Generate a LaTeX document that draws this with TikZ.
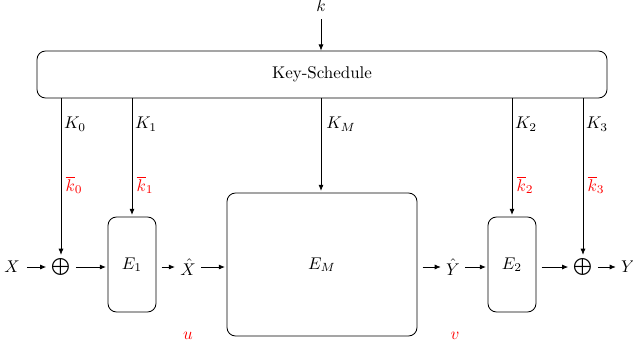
\documentclass[tikz,border=0pt]{standalone}
\usetikzlibrary{arrows.meta}
\begin{document}
\begin{tikzpicture}[x=0.59pt,y=-0.59pt,
  box/.style={draw,rounded corners=5pt,line width=0.5pt},
  arr/.style={-{Latex[length=3.6pt,width=3pt]},line width=0.45pt},
  key/.style={anchor=center},
  bark/.style={anchor=center,text=red},
  lbl/.style={inner sep=0pt}]
\useasboundingbox (0,0) rectangle (633,350);

% key schedule
\node[lbl] (k) at (321,6) {$k$};
\node[box,minimum width=570*0.59pt,minimum height=47*0.59pt] (ks) at (322,74.5) {Key-Schedule};
\draw[arr] ([yshift=-4pt]k.south) -- (ks.north -| k);

% round functions
\node[box,minimum width=48*0.59pt,minimum height=95*0.59pt] (e1) at (132,264.5) {$E_1$};
\node[box,minimum width=190*0.59pt,minimum height=143*0.59pt] (em) at (322,264.5) {$E_M$};
\node[box,minimum width=48*0.59pt,minimum height=95*0.59pt] (e2) at (512,264.5) {$E_2$};

% whitening xors
\node[lbl] (x0) at (61,267) {$\bigoplus$};
\node[lbl] (x3) at (583,267) {$\bigoplus$};

% data path
\coordinate (row) at (0,267);
\node[lbl] (X) at (12,267) {$X$};
\node[lbl] (Xh) at (188,267) {$\hat{X}$};
\node[lbl] (Yh) at (453,267) {$\hat{Y}$};
\node[lbl] (Y) at (628,267) {$Y$};
\draw[arr] ([xshift=4pt]X.east |- row) -- ([xshift=-3pt]x0.west |- row);
\draw[arr] ([xshift=3pt]x0.east |- row) -- ([xshift=-1pt]e1.west |- row);
\draw[arr] ([xshift=3pt]e1.east |- row) -- ([xshift=-3pt]Xh.west |- row);
\draw[arr] ([xshift=3pt]Xh.east |- row) -- ([xshift=-1pt]em.west |- row);
\draw[arr] ([xshift=3pt]em.east |- row) -- ([xshift=-3pt]Yh.west |- row);
\draw[arr] ([xshift=3pt]Yh.east |- row) -- ([xshift=-1pt]e2.west |- row);
\draw[arr] ([xshift=3pt]e2.east |- row) -- ([xshift=-3pt]x3.west |- row);
\draw[arr] ([xshift=3pt]x3.east |- row) -- ([xshift=-3pt]Y.west |- row);

% round keys
\coordinate (t0) at (61,98);
\coordinate (t1) at (132,98);
\coordinate (tm) at (321,98);
\coordinate (t2) at (512,98);
\coordinate (t3) at (583,98);
\draw[arr] (t0) -- ([yshift=2pt]x0.north);
\draw[arr] (t1) -- ([yshift=1pt]e1.north);
\draw[arr] (tm) -- ([yshift=1pt]em.north -| tm);
\draw[arr] (t2) -- ([yshift=1pt]e2.north);
\draw[arr] (t3) -- ([yshift=2pt]x3.north);

\node[key] (K0) at (75,124) {$K_0$};
\node[key] (K1) at (146,124) {$K_1$};
\node[key] (KM) at (341,124) {$K_M$};
\node[key] (K2) at (526,124) {$K_2$};
\node[key] (K3) at (597,124) {$K_3$};

\node[bark] (b0) at (74,185) {$\overline{k}_0$};
\node[bark] (b1) at (145,185) {$\overline{k}_1$};
\node[bark] (b2) at (525,185) {$\overline{k}_2$};
\node[bark] (b3) at (596,185) {$\overline{k}_3$};

\node[lbl,text=red] (u) at (188,336) {$u$};
\node[lbl,text=red] (v) at (455,336) {$v$};
\end{tikzpicture}
\end{document}
